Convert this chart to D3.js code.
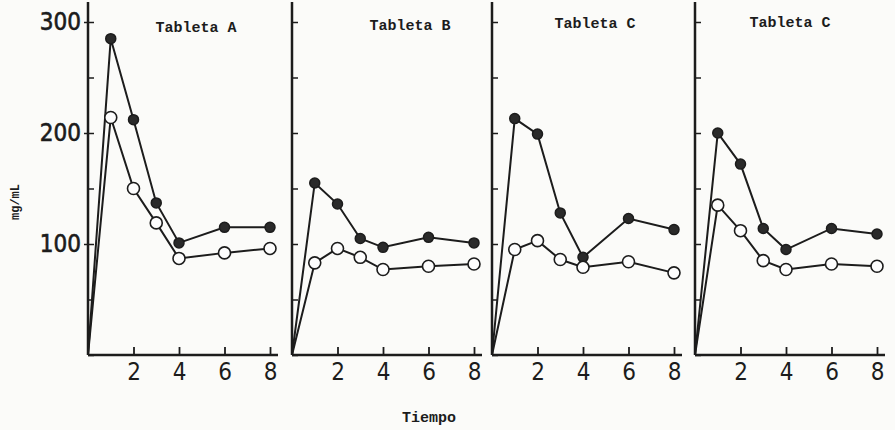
<!DOCTYPE html>
<html>
<head>
<meta charset="utf-8">
<script src="https://cdn.jsdelivr.net/npm/d3@7"></script>
<style>
  body { margin: 0; background: #fbfbf9; }
  svg { display: block; }
  .tick text { font-family: "Liberation Sans Narrow", "DejaVu Sans Condensed", sans-serif; fill: #1c1c1c; }
</style>
</head>
<body>
<svg></svg>
<script>
// sampling times (h)
var tiempo = [0, 1, 2, 3, 4, 6, 8];
var panelTitles = ["Tableta A", "Tableta B", "Tableta C", "Tableta C"];

// filled circles series, per panel
var llenoA = [0, 285, 212, 137, 101, 115, 115];
var llenoB = [0, 155, 136, 105, 97, 106, 101];
var llenoC = [0, 213, 199, 128, 88, 123, 113];
var llenoD = [0, 200, 172, 114, 95, 114, 109];

// open circles series, per panel
var abiertoA = [0, 214, 150, 119, 87, 92, 96];
var abiertoB = [0, 83, 96, 88, 77, 80, 82];
var abiertoC = [0, 95, 103, 86, 79, 84, 74];
var abiertoD = [0, 135, 112, 85, 77, 82, 80];

var xTicks = [2, 4, 6, 8];
var yTicks = [0, 50, 100, 150, 200, 250, 300];
var yLabels = [100, 200, 300];

var lleno = [llenoA, llenoB, llenoC, llenoD];
var abierto = [abiertoA, abiertoB, abiertoC, abiertoD];

drawVisual = function(){
    var svgWidth = 895;
    var svgHeight = 430;
    var ink = "#1c1c1c";
    var panelLeft = [88, 292, 492, 695];
    var panelWidth = 182;
    var axisLength = 190;

    var svg = d3.select("svg")
        .attr("width", svgWidth)
        .attr("height", svgHeight);

    svg.append("rect")
        .attr("width", svgWidth)
        .attr("height", svgHeight)
        .attr("fill", "#fbfbf9");

    var y = d3.scaleLinear()
        .domain([0, 300])
        .range([355, 22]);

    panelTitles.forEach(function(title, p){
        var g = svg.append("g")
            .attr("transform", "translate(" + panelLeft[p] + ",0)");

        var x = d3.scaleLinear()
            .domain([0, 8])
            .range([0, panelWidth]);

        var line = d3.line()
            .x(function(d, i){ return x(tiempo[i]); })
            .y(function(d){ return y(d); });

        // y axis: inner ticks every 50
        var yAxis = g.append("g")
            .call(d3.axisRight(y).tickValues(yTicks).tickSize(6).tickFormat(""));
        yAxis.select(".domain").remove();
        yAxis.selectAll("line").attr("stroke", ink).attr("stroke-width", 1.5);

        if(p == 0){
            var yLab = g.append("g")
                .call(d3.axisLeft(y).tickValues(yLabels).tickSize(4).tickPadding(3));
            yLab.select(".domain").remove();
            yLab.selectAll("line").attr("stroke", ink).attr("stroke-width", 1.5);
            yLab.selectAll("text")
                .style("font-size", "24px")
                .attr("stroke", ink)
                .attr("stroke-width", 0.6);
        }

        g.append("line")
            .attr("x1", 0).attr("x2", 0)
            .attr("y1", y(0)).attr("y2", y(318))
            .attr("stroke", ink)
            .attr("stroke-width", 2.5);

        // x axis
        var xAxis = g.append("g")
            .attr("transform", "translate(0," + y(0) + ")")
            .call(d3.axisBottom(x).tickValues(xTicks).tickSize(-8).tickPadding(7));
        xAxis.select(".domain").remove();
        xAxis.selectAll("line").attr("stroke", ink).attr("stroke-width", 1.8);
        xAxis.selectAll("text")
            .style("font-size", "24px")
            .attr("dy", "0.74em");

        g.append("line")
            .attr("x1", 0).attr("x2", axisLength)
            .attr("y1", y(0)).attr("y2", y(0))
            .attr("stroke", ink)
            .attr("stroke-width", 2.5);

        // lines
        g.append("path")
            .datum(lleno[p])
            .attr("d", line)
            .attr("fill", "none")
            .attr("stroke", ink)
            .attr("stroke-width", 2);

        g.append("path")
            .datum(abierto[p])
            .attr("d", line)
            .attr("fill", "none")
            .attr("stroke", ink)
            .attr("stroke-width", 2);

        // markers (skip the origin point)
        g.append("g")
            .selectAll(null)
            .data(lleno[p].slice(1))
            .enter()
            .append("circle")
            .attr("cx", function(d, i){ return x(tiempo[i + 1]); })
            .attr("cy", function(d){ return y(d); })
            .attr("r", 5)
            .attr("fill", "#2a2a2a")
            .attr("stroke", ink)
            .attr("stroke-width", 1.5);

        g.append("g")
            .selectAll(null)
            .data(abierto[p].slice(1))
            .enter()
            .append("circle")
            .attr("cx", function(d, i){ return x(tiempo[i + 1]); })
            .attr("cy", function(d){ return y(d); })
            .attr("r", 6)
            .attr("fill", "#fdfdfd")
            .attr("stroke", ink)
            .attr("stroke-width", 1.6);

        g.append("text")
            .attr("x", [108, 118, 103, 95][p])
            .attr("y", [32, 30, 28, 27][p])
            .attr("text-anchor", "middle")
            .style("font-family", "'Liberation Mono', 'DejaVu Sans Mono', monospace")
            .style("font-weight", "bold")
            .style("font-size", "15px")
            .attr("fill", ink)
            .text(title);
    });

    svg.append("text")
        .attr("transform", "translate(19,202) rotate(-90)")
        .attr("text-anchor", "middle")
        .style("font-family", "'Liberation Mono', 'DejaVu Sans Mono', monospace")
        .style("font-weight", "bold")
        .style("font-size", "12px")
        .attr("fill", ink)
        .text("mg/mL");

    svg.append("text")
        .attr("x", 429)
        .attr("y", 422)
        .attr("text-anchor", "middle")
        .style("font-family", "'Liberation Mono', 'DejaVu Sans Mono', monospace")
        .style("font-weight", "bold")
        .style("font-size", "15px")
        .attr("fill", ink)
        .text("Tiempo");
}

drawVisual()
</script>
</body>
</html>
